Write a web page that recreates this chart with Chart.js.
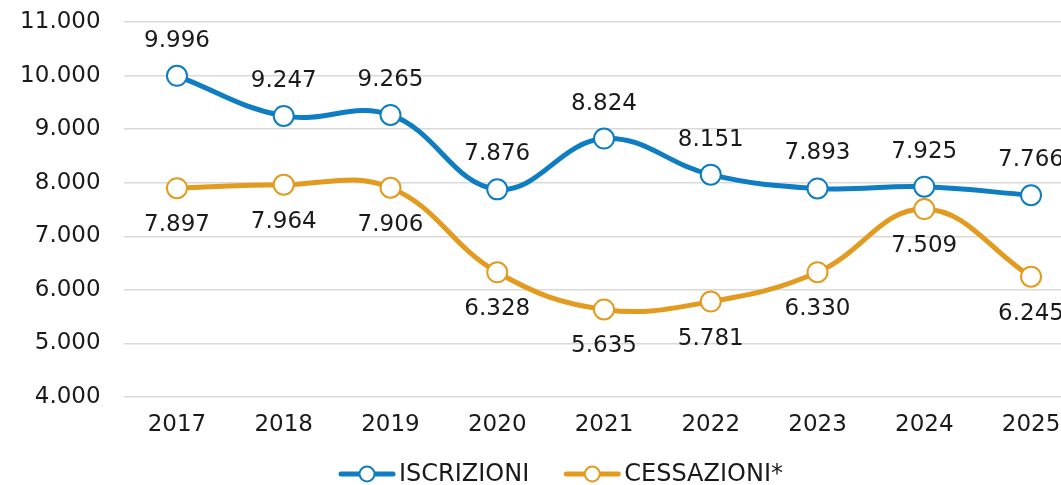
<!DOCTYPE html>
<html>
<head>
<meta charset="utf-8">
<script src="https://cdn.jsdelivr.net/npm/chart.js@4"></script>
<style>
  html, body { margin: 0; padding: 0; background: #ffffff; overflow: hidden; }
  #wrap { position: relative; width: 1090px; height: 485px; }
</style>
</head>
<body>
<div id="wrap"><canvas id="c"></canvas></div>
<script>
const categories = ['2017', '2018', '2019', '2020', '2021', '2022', '2023', '2024', '2025'];
const iscrizioni = [9996, 9247, 9265, 7876, 8824, 8151, 7893, 7925, 7766];
const cessazioni = [7897, 7964, 7906, 6328, 5635, 5781, 6330, 7509, 6245];
const seriesNames = ['ISCRIZIONI', 'CESSAZIONI*'];
const yTicks = [4000, 5000, 6000, 7000, 8000, 9000, 10000, 11000];

const BLUE = '#0F7DC2';
const ORANGE = '#E39B1F';
const TEXT = '#1a1a1a';
const FONT = "'DejaVu Sans', sans-serif";

function fmt(v) {
  return String(v).replace(/\B(?=(\d{3})+(?!\d))/g, '.');
}

const valueLabels = {
  id: 'valueLabels',
  afterDatasetsDraw(chart) {
    const ctx = chart.ctx;
    ctx.save();
    ctx.font = '23px ' + FONT;
    ctx.fillStyle = TEXT;
    ctx.textAlign = 'center';
    ctx.textBaseline = 'middle';
    chart.data.datasets.forEach((ds, di) => {
      const meta = chart.getDatasetMeta(di);
      const off = ds.labelOffset;
      meta.data.forEach((pt, i) => {
        ctx.fillText(fmt(ds.data[i]), pt.x, pt.y + off);
      });
    });
    ctx.restore();
  }
};

const customLegend = {
  id: 'customLegend',
  afterDraw(chart) {
    const ctx = chart.ctx;
    ctx.save();
    ctx.font = '24px ' + FONT;
    const markerW = 56, gapText = 4, gapItem = 35;
    const items = chart.data.datasets.map(ds => ({
      label: ds.label, color: ds.borderColor, w: ctx.measureText(ds.label).width
    }));
    let total = 0;
    items.forEach((it, i) => { total += markerW + gapText + it.w + (i ? gapItem : 0); });
    let x = 561 - total / 2;
    const y = 474;
    items.forEach((it) => {
      ctx.strokeStyle = it.color;
      ctx.lineWidth = 5;
      ctx.lineCap = 'round';
      ctx.beginPath();
      ctx.moveTo(x + 2, y);
      ctx.lineTo(x + markerW - 2, y);
      ctx.stroke();
      ctx.beginPath();
      ctx.arc(x + markerW / 2, y, 7.5, 0, Math.PI * 2);
      ctx.fillStyle = '#ffffff';
      ctx.fill();
      ctx.lineWidth = 2;
      ctx.stroke();
      ctx.fillStyle = TEXT;
      ctx.textAlign = 'left';
      ctx.textBaseline = 'middle';
      ctx.fillText(it.label, x + markerW + gapText, y + 1);
      x += markerW + gapText + it.w + gapItem;
    });
    ctx.restore();
  }
};

new Chart(document.getElementById('c'), {
  type: 'line',
  data: {
    labels: categories,
    datasets: [
      {
        label: seriesNames[0],
        data: iscrizioni,
        borderColor: BLUE,
        backgroundColor: '#ffffff',
        borderWidth: 5,
        tension: 0.4,
        pointRadius: 10,
        pointHoverRadius: 10,
        pointBorderWidth: 2,
        pointBackgroundColor: '#ffffff',
        pointBorderColor: BLUE,
        labelOffset: -35,
        order: 1,
        clip: false
      },
      {
        label: seriesNames[1],
        data: cessazioni,
        borderColor: ORANGE,
        backgroundColor: '#ffffff',
        borderWidth: 5,
        tension: 0.4,
        pointRadius: 10,
        pointHoverRadius: 10,
        pointBorderWidth: 2,
        pointBackgroundColor: '#ffffff',
        pointBorderColor: ORANGE,
        labelOffset: 37,
        order: 0,
        clip: false
      }
    ]
  },
  options: {
    responsive: true,
    maintainAspectRatio: false,
    animation: false,
    layout: { autoPadding: false, padding: { top: 22, right: 5.6, bottom: 38, left: 0 } },
    plugins: {
      legend: { display: false },
      tooltip: { enabled: false }
    },
    scales: {
      x: {
        offset: true,
        grid: { display: false, drawTicks: false },
        border: { display: false },
        ticks: { color: TEXT, font: { family: FONT, size: 23 }, padding: 14, maxRotation: 0, autoSkip: false },
        afterFit(scale) { scale.height = 50; }
      },
      y: {
        min: 4000,
        max: 11000,
        afterBuildTicks(scale) { scale.ticks = yTicks.map(v => ({ value: v })); },
        grid: { color: '#d9d9d9', lineWidth: 1.5, drawTicks: false },
        border: { display: false },
        ticks: {
          color: TEXT,
          font: { family: FONT, size: 23 },
          padding: 23,
          callback: (v) => fmt(v)
        },
        afterFit(scale) {
          scale.width = 123.6;
          scale.paddingTop = 0;
          scale.paddingBottom = 0;
        }
      }
    }
  },
  plugins: [valueLabels, customLegend]
});
</script>
</body>
</html>
